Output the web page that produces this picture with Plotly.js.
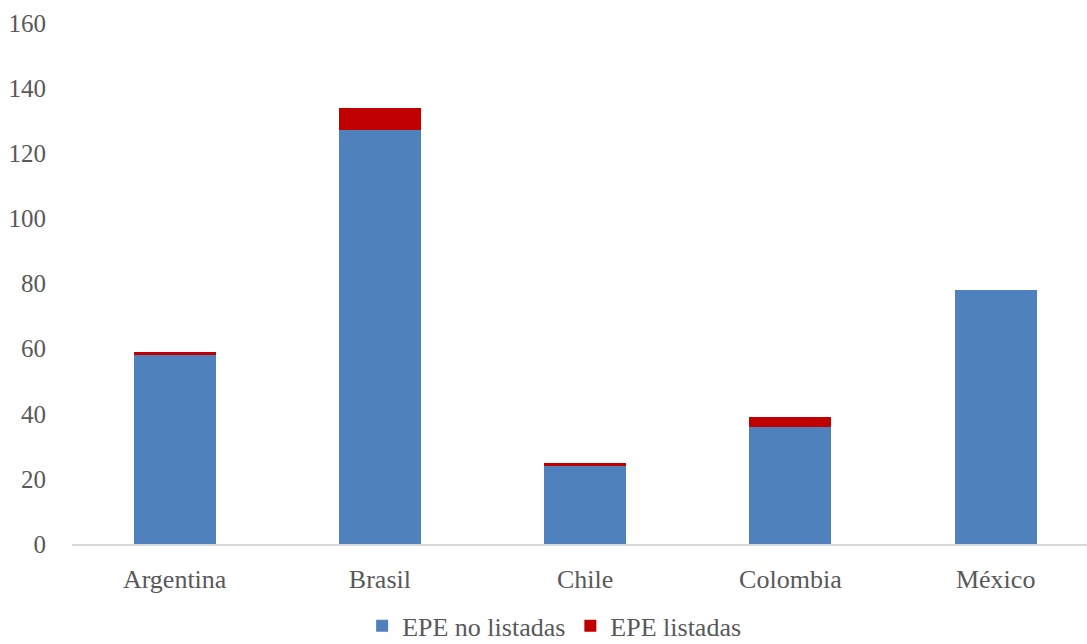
<!DOCTYPE html>
<html>
<head>
<meta charset="utf-8">
<script src="https://cdn.plot.ly/plotly-3.0.1.min.js"></script>
<style>
  html, body { margin: 0; padding: 0; background: #ffffff; }
  #chart { width: 1087px; height: 644px; }
</style>
</head>
<body>
<div id="chart"></div>
<script>
// Empresas públicas (EPE) por país, listadas y no listadas en bolsa
const countries = ['Argentina', 'Brasil', 'Chile', 'Colombia', 'México'];
const noListadas = [58, 127, 24, 36, 78];
const listadas = [1, 7, 1, 3, 0];
const yTicks = [0, 20, 40, 60, 80, 100, 120, 140, 160];

const textColor = '#595959';
const fontFamily = '"Liberation Serif", "DejaVu Serif", serif';

const traces = [
  {
    type: 'bar',
    name: 'EPE no listadas',
    x: countries,
    y: noListadas,
    width: 0.4,
    marker: { color: '#4f81bd' },
    hoverinfo: 'x+y+name'
  },
  {
    type: 'bar',
    name: 'EPE listadas',
    x: countries,
    y: listadas,
    width: 0.4,
    marker: { color: '#c00000' },
    hoverinfo: 'x+y+name'
  }
];

const layout = {
  width: 1087,
  height: 644,
  barmode: 'stack',
  paper_bgcolor: '#ffffff',
  plot_bgcolor: '#ffffff',
  margin: { l: 72, r: 0, t: 23, b: 100, autoexpand: false },
  font: { family: fontFamily, size: 24, color: textColor },
  showlegend: true,
  legend: {
    orientation: 'h',
    x: 0.475,
    xanchor: 'center',
    yref: 'container',
    y: 0.028,
    yanchor: 'middle',
    font: { family: fontFamily, size: 26, color: textColor },
    traceorder: 'normal',
    itemwidth: 30
  },
  xaxis: {
    type: 'category',
    range: [-0.5, 4.445],
    showgrid: false,
    showline: true,
    linecolor: '#d9d9d9',
    linewidth: 1.5,
    ticks: 'outside',
    ticklen: 11,
    tickcolor: 'rgba(0,0,0,0)',
    tickfont: { family: fontFamily, size: 26, color: textColor },
    fixedrange: true
  },
  yaxis: {
    range: [0, 160],
    tickvals: yTicks,
    ticktext: yTicks.map(String),
    showgrid: false,
    zeroline: false,
    showline: false,
    ticks: 'outside',
    ticklen: 20,
    tickcolor: 'rgba(0,0,0,0)',
    tickfont: { family: fontFamily, size: 25, color: textColor },
    fixedrange: true
  }
};

Plotly.newPlot('chart', traces, layout, { displayModeBar: false, staticPlot: true });
</script>
</body>
</html>
